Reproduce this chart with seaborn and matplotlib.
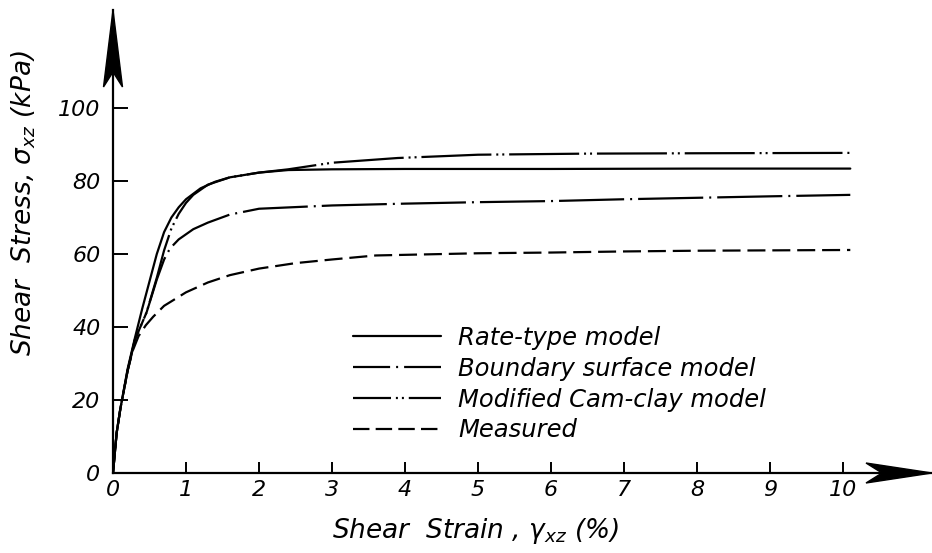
import matplotlib
matplotlib.use("Agg")
import matplotlib.pyplot as plt
from matplotlib.lines import Line2D
from matplotlib.patches import Polygon
import seaborn as sns

# Shear strain (%) / shear stress (kPa) for each curve
rate_x = [0, 0.05, 0.1, 0.2, 0.3, 0.4, 0.5, 0.6, 0.7, 0.8, 0.9, 1.0, 1.2, 1.4, 1.6, 2.0, 2.4, 3.0, 4.0, 6.0, 8.0, 10.1]
rate_y = [0, 11, 17.5, 28.5, 37, 45, 52.5, 60, 66, 70, 72.8, 75, 78, 79.8, 81, 82.3, 83, 83.2, 83.3, 83.3, 83.4, 83.4]

bnd_x = [0, 0.05, 0.1, 0.2, 0.3, 0.46, 0.6, 0.7, 0.78, 0.9, 1.1, 1.3, 1.6, 2.0, 3.0, 4.0, 5.0, 6.0, 7.0, 8.0, 9.0, 10.1]
bnd_y = [0, 11, 17.5, 28, 36.5, 44, 53, 58.5, 61.5, 64, 66.8, 68.6, 70.8, 72.4, 73.3, 73.8, 74.2, 74.5, 75, 75.4, 75.8, 76.2]

cam_x = [0, 0.05, 0.1, 0.2, 0.3, 0.46, 0.6, 0.7, 0.8, 0.9, 1.0, 1.1, 1.3, 1.6, 2.0, 2.4, 3.0, 3.9, 5.0, 6.5, 8.0, 10.1]
cam_y = [0, 11, 17.5, 28, 36.5, 44, 53.5, 61, 67, 71, 74, 76.2, 79, 81, 82.3, 83.2, 85, 86.3, 87.2, 87.5, 87.6, 87.7]

meas_x = [0, 0.05, 0.1, 0.2, 0.27, 0.35, 0.45, 0.55, 0.7, 1.0, 1.3, 1.6, 2.0, 2.5, 3.0, 3.6, 5.0, 6.0, 7.0, 8.0, 10.1]
meas_y = [0, 11, 17.5, 28, 33.5, 37.5, 40.5, 42.8, 45.8, 49.5, 52.2, 54.2, 56, 57.5, 58.5, 59.6, 60.2, 60.4, 60.7, 60.9, 61.1]

labels = ["Rate-type model", "Boundary surface model", "Modified Cam-clay model", "Measured"]
x_ticks = list(range(0, 11))
y_ticks = list(range(0, 101, 20))

sns.set_theme(style="ticks")
plt.rcParams["font.family"] = ["DejaVu Sans"]
plt.rcParams["font.style"] = "italic"
plt.rcParams["mathtext.fontset"] = "dejavusans"
plt.rcParams["text.color"] = "black"

W, H = 932, 553
fig = plt.figure(figsize=(W / 100, H / 100), dpi=100)
fig.patch.set_facecolor("white")

# axes placed so the origin sits near the lower left, arrows run to the edges
ox, oy = 113, 473
px_x, px_y = 73.0, 3.65
ax = fig.add_axes([ox / W, (H - oy) / H, (W - ox) / W, (oy - 10) / H])
ax.set_facecolor("white")
xmax = (W - ox) / px_x
ymax = (oy - 10) / px_y
ax.set_xlim(0, xmax)
ax.set_ylim(0, ymax)

LW = 1.6
styles = [
    "-",
    (0, (29.3, 2.7, 0.9, 2.7)),
    (0, (31.5, 2.2, 0.9, 1.8, 0.9, 2.2)),
    (0, (8.1, 3.1)),
]
series = [(rate_x, rate_y), (bnd_x, bnd_y), (cam_x, cam_y), (meas_x, meas_y)]
for (xs, ys), ls in zip(series, styles):
    sns.lineplot(x=xs, y=ys, ax=ax, color="black", linewidth=LW,
                 linestyle=ls, sort=False, estimator=None)

# axis lines
for side in ["top", "right"]:
    ax.spines[side].set_visible(False)
for side in ["left", "bottom"]:
    ax.spines[side].set_linewidth(1.6)
    ax.spines[side].set_color("black")

# arrow heads at the ends of both axes
hw_x = 9.5 / px_x
y_arrow = Polygon([(0, ymax), (hw_x, (oy - 87) / px_y), (0, (oy - 72) / px_y),
                   (-hw_x, (oy - 87) / px_y)], closed=True, facecolor="black",
                  edgecolor="black", clip_on=False, zorder=5)
hw_y = 10 / px_y
x_arrow = Polygon([(xmax, 0), ((866 - ox) / px_x, hw_y), ((882 - ox) / px_x, 0),
                   ((866 - ox) / px_x, -hw_y)], closed=True, facecolor="black",
                  edgecolor="black", clip_on=False, zorder=5)
ax.add_patch(y_arrow)
ax.add_patch(x_arrow)

ax.set_xticks(x_ticks)
ax.set_xticklabels([str(t) for t in x_ticks])
ax.set_yticks(y_ticks)
ax.set_yticklabels([str(t) for t in y_ticks])
ax.tick_params(axis="x", direction="in", length=8, width=1.4, pad=5,
               labelsize=16, colors="black")
ax.tick_params(axis="y", direction="in", length=11, width=1.4, pad=9,
               labelsize=16, colors="black")

ax.set_xlabel("Shear  Strain , γ$_{xz}$ (%)", fontsize=19, color="black")
ax.set_ylabel("Shear  Stress, σ$_{xz}$ (kPa)", fontsize=19, color="black")
ax.xaxis.set_label_coords((476 - ox) / (W - ox), -0.093)
ax.yaxis.set_label_coords(-0.092, 0.583)

handles = [
    Line2D([], [], color="black", lw=LW, linestyle="-"),
    Line2D([], [], color="black", lw=LW, linestyle=(12.6, (29.3, 2.7, 0.9, 2.7))),
    Line2D([], [], color="black", lw=LW, linestyle=(14.4, (31.5, 2.2, 0.9, 1.8, 0.9, 2.2))),
    Line2D([], [], color="black", lw=LW, linestyle=(0, (7.4, 2.8))),
]
leg = ax.legend(handles, labels, loc="upper left",
                bbox_to_anchor=(353 / W, 1 - 326 / H), bbox_transform=fig.transFigure,
                frameon=False, fontsize=17.5, handlelength=3.6, handletextpad=0.72,
                labelspacing=0.28, borderpad=0, borderaxespad=0)
for t in leg.get_texts():
    t.set_color("black")

fig.savefig("out.png", dpi=100, facecolor="white")
